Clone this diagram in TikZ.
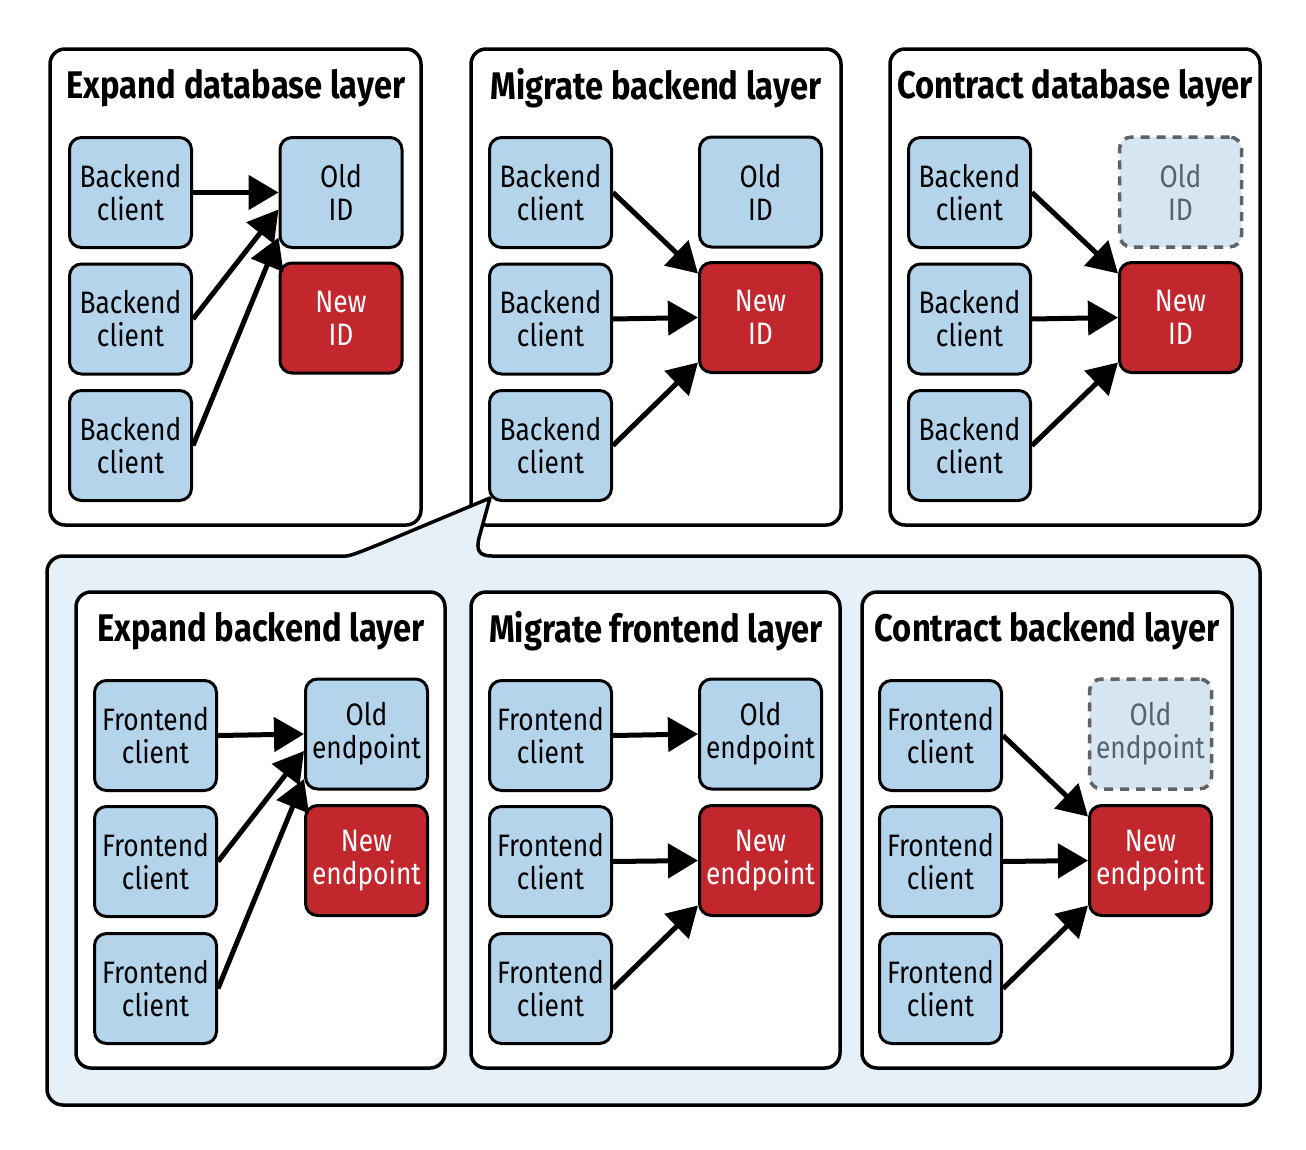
\documentclass[tikz,border=0pt]{standalone}
\usepackage{fontspec}
\setmainfont{Fira Sans}[FakeStretch=0.85]
\usetikzlibrary{arrows.meta}
\definecolor{lb}{RGB}{180,212,236}
\definecolor{rd}{RGB}{193,39,45}
\definecolor{ghost}{RGB}{213,229,242}
\definecolor{ghostline}{RGB}{95,99,103}
\definecolor{ghosttext}{RGB}{88,98,108}
\definecolor{bigfill}{RGB}{229,240,248}
\begin{document}
\begin{tikzpicture}[x=1pt,y=-1pt,
 panel/.style={draw, line width=3.5pt, rounded corners=15pt, fill=white, inner sep=0pt},
 ptitle/.style={font=\fontsize{38.5}{42}\selectfont\bfseries, anchor=center, inner sep=0pt},
 box/.style={draw, line width=3pt, rounded corners=12pt, fill=lb, minimum width=122pt, minimum height=110pt, inner sep=0pt, align=center, font=\fontsize{31}{33}\selectfont},
 newbox/.style={box, fill=rd, text=white},
 ghostbox/.style={box, fill=ghost, draw=ghostline, line width=3.5pt, dash pattern=on 9pt off 7pt, text=ghosttext},
 arr/.style={line width=5pt, -{Triangle[length=30pt,width=34pt]}},
]
\useasboundingbox (0,0) rectangle (1306,1149);
% top panels
\node[panel, minimum width=371pt, minimum height=476pt] (p1) at (235.5,287) {};
\node[panel, minimum width=370pt, minimum height=476pt] (p2) at (656,287) {};
\node[panel, minimum width=370pt, minimum height=476pt] (p3) at (1075,287) {};
% big panel with callout
\draw[line width=3.5pt, fill=bigfill, line join=round]
 (490,498) -- (479,538) .. controls (476,550) and (479,556) .. (492,556)
 [rounded corners=16pt] -- (1260,556) -- (1260,1105) -- (47,1105) -- (47,556) -- (330,556) [sharp corners]
 .. controls (350,556) and (360,552) .. (380,544) -- cycle;
% bottom panels
\node[panel, minimum width=369pt, minimum height=476pt] (p4) at (260.5,830) {};
\node[panel, minimum width=369pt, minimum height=476pt] (p5) at (655.5,830) {};
\node[panel, minimum width=370pt, minimum height=476pt] (p6) at (1047,830) {};
% titles
\node[ptitle] (t1) at (236,88) {Expand database layer};
\node[ptitle] (t2) at (656,88) {Migrate backend layer};
\node[ptitle] (t3) at (1075,88) {Contract database layer};
\node[ptitle] (t4) at (261,631) {Expand backend layer};
\node[ptitle] (t5) at (656,631) {Migrate frontend layer};
\node[ptitle] (t6) at (1047,631) {Contract backend layer};
% panel 1
\node[box] (a1) at (130.5,192.5) {Backend\\client};
\node[box] (a2) at (130.5,319) {Backend\\client};
\node[box] (a3) at (130.5,445.5) {Backend\\client};
\node[box] (o1) at (341,192.5) {Old\\ID};
\node[newbox] (n1) at (341,318) {New\\ID};
\draw[arr] (a1.east) -- (o1.west);
\draw[arr] (a2.east) -- ([yshift=-17pt]o1.west);
\draw[arr] (a3.east) -- ([yshift=-45pt]o1.west);
% panel 2
\node[box] (b1) at (550.5,192.5) {Backend\\client};
\node[box] (b2) at (550.5,319) {Backend\\client};
\node[box] (b3) at (550.5,445.5) {Backend\\client};
\node[box] (o2) at (760.5,192) {Old\\ID};
\node[newbox] (n2) at (760.5,317.5) {New\\ID};
\draw[arr] (b1.east) -- ([yshift=44pt]n2.west);
\draw[arr] (b2.east) -- (n2.west);
\draw[arr] (b3.east) -- ([yshift=-45pt]n2.west);
% panel 3
\node[box] (c1) at (969.5,192.5) {Backend\\client};
\node[box] (c2) at (969.5,319) {Backend\\client};
\node[box] (c3) at (969.5,445.5) {Backend\\client};
\node[ghostbox] (o3) at (1180.5,192) {Old\\ID};
\node[newbox] (n3) at (1180.5,317.5) {New\\ID};
\draw[arr] (c1.east) -- ([yshift=44pt]n3.west);
\draw[arr] (c2.east) -- (n3.west);
\draw[arr] (c3.east) -- ([yshift=-45pt]n3.west);
% panel 4
\node[box] (d1) at (155.5,735.5) {Frontend\\client};
\node[box] (d2) at (155.5,861.5) {Frontend\\client};
\node[box] (d3) at (155.5,988.5) {Frontend\\client};
\node[box] (o4) at (366.5,734) {Old\\endpoint};
\node[newbox] (n4) at (366.5,860.5) {New\\endpoint};
\draw[arr] (d1.east) -- (o4.west);
\draw[arr] (d2.east) -- ([yshift=-17pt]o4.west);
\draw[arr] (d3.east) -- ([yshift=-45pt]o4.west);
% panel 5
\node[box] (e1) at (550.5,735.5) {Frontend\\client};
\node[box] (e2) at (550.5,861.5) {Frontend\\client};
\node[box] (e3) at (550.5,988.5) {Frontend\\client};
\node[box] (o5) at (760.5,734) {Old\\endpoint};
\node[newbox] (n5) at (760.5,860.5) {New\\endpoint};
\draw[arr] (e1.east) -- (o5.west);
\draw[arr] (e2.east) -- (n5.west);
\draw[arr] (e3.east) -- ([yshift=-45pt]n5.west);
% panel 6
\node[box] (f1) at (940.5,735.5) {Frontend\\client};
\node[box] (f2) at (940.5,861.5) {Frontend\\client};
\node[box] (f3) at (940.5,988.5) {Frontend\\client};
\node[ghostbox] (o6) at (1150.5,734) {Old\\endpoint};
\node[newbox] (n6) at (1150.5,860.5) {New\\endpoint};
\draw[arr] (f1.east) -- ([yshift=44pt]n6.west);
\draw[arr] (f2.east) -- (n6.west);
\draw[arr] (f3.east) -- ([yshift=-45pt]n6.west);
\end{tikzpicture}
\end{document}
